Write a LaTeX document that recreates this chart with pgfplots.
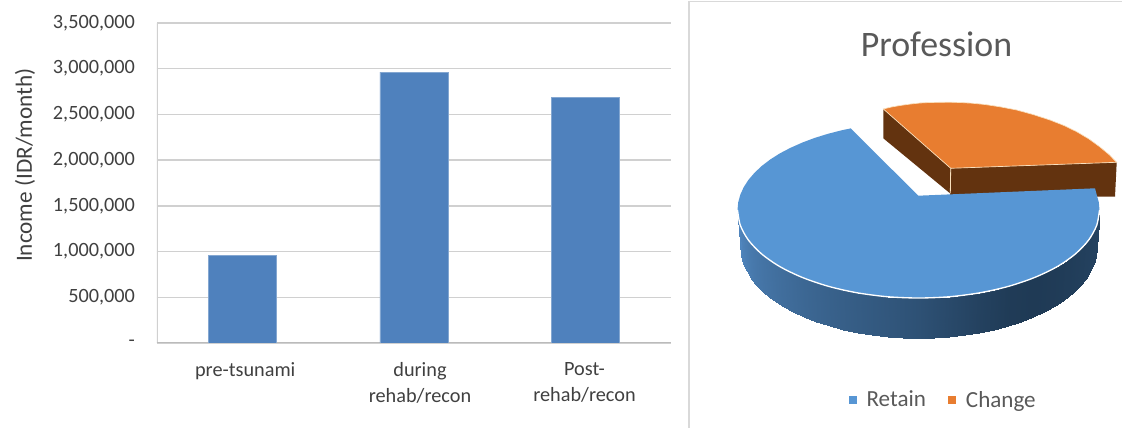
\documentclass[border=0pt]{standalone}
\usepackage{fontspec}
\setmainfont{Carlito}
\usepackage{pgfplots}
\pgfplotsset{compat=1.18}
\usepackage{pgfplotstable}
\definecolor{barblue}{RGB}{79,129,189}
\definecolor{gridgray}{RGB}{208,208,208}
\definecolor{ticktext}{RGB}{64,64,64}
\definecolor{titletext}{RGB}{89,89,89}
\definecolor{pieblue}{RGB}{87,150,212}
\definecolor{pieorange}{RGB}{232,125,48}
\definecolor{piebrown}{RGB}{99,51,15}
\definecolor{piecream}{RGB}{250,225,190}

% income by phase
\pgfplotstableread{
x y
0 955000
1 2964000
2 2690000
}\incometable

% outer wall of the big slice, pixel coordinates of the reference
\pgfplotstableread{
x y m
1099.5 210.0 0.12
1096.5 248.0 0.12
1098.8 217.7 0.11
1095.8 255.8 0.11
1096.7 225.3 0.10
1093.8 263.6 0.10
1093.3 232.8 0.09
1090.4 271.3 0.09
1088.6 240.1 0.08
1085.8 278.8 0.08
1082.5 247.2 0.065
1079.8 286.0 0.065
1075.3 254.0 0.05
1072.6 293.0 0.05
1066.8 260.5 0.035
1064.3 299.6 0.035
1057.2 266.6 0.02
1054.8 305.9 0.02
1046.5 272.2 0.01
1044.4 311.6 0.01
1034.8 277.4 0.00
1032.9 316.9 0.00
1022.3 282.1 0.01
1020.6 321.7 0.01
1009.0 286.2 0.02
1007.5 325.9 0.02
995.0 289.8 0.06
993.7 329.6 0.06
980.4 292.7 0.10
979.4 332.6 0.10
965.3 295.0 0.15
964.6 334.9 0.15
949.9 296.7 0.20
949.4 336.6 0.20
934.3 297.7 0.25
934.0 337.7 0.25
918.5 298.0 0.30
918.5 338.0 0.30
902.7 297.7 0.34
903.0 337.7 0.34
887.1 296.7 0.38
887.6 336.6 0.38
871.7 295.0 0.415
872.4 334.9 0.415
856.6 292.7 0.45
857.6 332.6 0.45
842.0 289.8 0.485
843.3 329.6 0.485
828.0 286.2 0.52
829.5 325.9 0.52
814.7 282.1 0.56
816.4 321.7 0.56
802.2 277.4 0.60
804.1 316.9 0.60
790.5 272.2 0.64
792.6 311.6 0.64
779.8 266.6 0.68
782.2 305.9 0.68
770.2 260.5 0.72
772.7 299.6 0.72
761.7 254.0 0.76
764.4 293.0 0.76
754.5 247.2 0.80
757.2 286.0 0.80
748.4 240.1 0.85
751.2 278.8 0.85
743.7 232.8 0.90
746.6 271.3 0.90
740.3 225.3 0.95
743.2 263.6 0.95
738.2 217.7 0.98
741.2 255.8 0.98
737.5 210.0 1.00
740.5 248.0 1.00
}\retainwall

\begin{document}
\begin{tikzpicture}[x=1pt,y=1pt]
\path[use as bounding box] (0,0) rectangle (841.5,321);

% left panel: bars
\begin{axis}[
	at={(117.75pt,63.75pt)},
	anchor=south west,
	scale only axis,
	width=385.5pt,
	height=240pt,
	ybar,
	bar width=51pt,
	xmin=-0.5,
	xmax=2.5,
	ymin=0,
	ymax=3500000,
	xtick={0.015,1.035,1.995},
	xticklabels={pre-tsunami,during\\rehab/recon,Post-\\rehab/recon},
	ytick={0,500000,1000000,1500000,2000000,2500000,3000000,3500000},
	yticklabels={-,{500,000},{1,000,000},{1,500,000},{2,000,000},{2,500,000},{3,000,000},{3,500,000}},
	ymajorgrids,
	grid style={gridgray,line width=1.1pt},
	axis line style={draw=none},
	major tick style={gridgray,line width=1.1pt},
	major tick length=4pt,
	xtick style={draw=none},
	scaled y ticks=false,
	xticklabel style={align=center,text=ticktext,font=\fontsize{15.2}{19.5}\selectfont,yshift=-7pt},
	yticklabel style={text=ticktext,font=\fontsize{15.2}{16}\selectfont,xshift=-13pt},
	ylabel={Income (IDR/month)},
	ylabel style={at={(axis description cs:-0.257,0.556)},anchor=center,text=ticktext,font=\fontsize{17.4}{19}\selectfont},
]
\addplot[forget plot,draw=gridgray,line width=0.8pt,sharp plot] coordinates {(-0.5,0) (-0.5,3500000)};
\addplot[forget plot,draw=gridgray!90!black,line width=1.1pt,sharp plot] coordinates {(-0.5,0) (2.5,0)};
\addplot[ybar,bar shift=0pt,fill=barblue,draw=barblue!70!white,line width=0.4pt] table[x=x,y=y] {\incometable};
\end{axis}

% right panel: exploded 3d pie, same pixel coordinates as the reference
\begin{axis}[
	at={(0pt,0pt)},
	anchor=south west,
	scale only axis,
	width=841.5pt,
	height=321pt,
	xmin=0,
	xmax=1122,
	ymin=0,
	ymax=428,
	y dir=reverse,
	hide axis,
	colormap={wall}{rgb255=(31,58,85) rgb255=(80,134,190)},
	point meta min=0,
	point meta max=1,
	legend style={at={(axis cs:849,400)},anchor=west,draw=none,fill=none,text=titletext,
		font=\fontsize{17.3}{19}\selectfont,legend columns=2,
		/tikz/every even column/.append style={column sep=15pt},inner sep=0pt},
	legend cell align=left,
]
% panel border
\addplot[forget plot,draw=gray!30,line width=1.2pt] coordinates {(689,428) (689,1.5) (1122,1.5)};

% detached slice: walls, then top face
\addplot[forget plot,fill=piebrown,draw=none] coordinates {(883.3,109) (883.3,138.3) (950,193.3) (950.7,168.3)} --cycle;
\addplot[forget plot,fill=piebrown,draw=none] coordinates {(950.7,168.3) (950,196) (1115,196.7) (1116.7,162.3)} --cycle;
\addplot[forget plot,draw=piecream,line width=0.6pt] coordinates {(950.7,168.3) (950.3,193.3)};
\addplot[forget plot,fill=pieorange,draw=piecream,line width=0.5pt] coordinates {
	(950.7,168.3) (883.3,109) (891,107.1) (900,105.5) (910,104.1) (920,103) (930,102.5) (940,102.3)
	(950,102.2) (960,102.5) (972,103.2) (985,104.5) (1000,106.8) (1016.7,110) (1033,114.5) (1050,120)
	(1064,125.5) (1076.7,131.7) (1089,139) (1100,147) (1109,154.5) (1116.7,162.3)} --cycle;

% big slice: wall, then top face
\addplot[forget plot,surf,shader=interp,mesh/cols=2,point meta=explicit] table[x=x,y=y,meta=m] {\retainwall};
\addplot[forget plot,fill=pieblue,draw=none] coordinates {
	(850.7,128.4) (918.3,195.7) (1095,188.3) (1096.7,194.7) (1098.8,202.3) (1099.5,210) (1098.8,217.7)
	(1096.7,225.3) (1093.3,232.8) (1088.6,240.1) (1082.5,247.2) (1075.3,254) (1066.8,260.5) (1057.2,266.6)
	(1046.5,272.2) (1034.8,277.4) (1022.3,282.1) (1009,286.2) (995,289.8) (980.4,292.7) (965.3,295)
	(949.9,296.7) (934.3,297.7) (918.5,298) (902.7,297.7) (887.1,296.7) (871.7,295) (856.6,292.7)
	(842,289.8) (828,286.2) (814.7,282.1) (802.2,277.4) (790.5,272.2) (779.8,266.6) (770.2,260.5)
	(761.7,254) (754.5,247.2) (748.4,240.1) (743.7,232.8) (740.3,225.3) (738.2,217.7) (737.5,210)
	(738.2,202.3) (740.3,194.7) (743.7,187.2) (748.4,179.9) (754.5,172.8) (761.7,166) (770.2,159.5)
	(779.8,153.4) (790.5,147.8) (802.2,142.6) (814.7,137.9) (828,133.8) (842,130.2)} --cycle;
\addplot[forget plot,smooth,draw=white,line width=1pt] coordinates {
	(1099.5,210) (1096.7,225.3) (1088.6,240.1) (1075.3,254) (1057.2,266.6) (1034.8,277.4) (1009,286.2)
	(980.4,292.7) (949.9,296.7) (918.5,298) (887.1,296.7) (856.6,292.7) (828,286.2) (802.2,277.4)
	(779.8,266.6) (761.7,254) (748.4,240.1) (740.3,225.3) (737.5,210)};

\node[text=titletext,font=\fontsize{26.9}{30}\selectfont] at (axis cs:936.5,44) {Profession};

\addlegendimage{only marks,mark=square*,mark size=2.6pt,mark options={fill=pieblue,draw=pieblue}}
\addlegendentry{\hspace{5.8pt}Retain}
\addlegendimage{only marks,mark=square*,mark size=2.6pt,mark options={fill=pieorange,draw=pieorange}}
\addlegendentry{\hspace{5.8pt}Change}
\end{axis}
\end{tikzpicture}
\end{document}
